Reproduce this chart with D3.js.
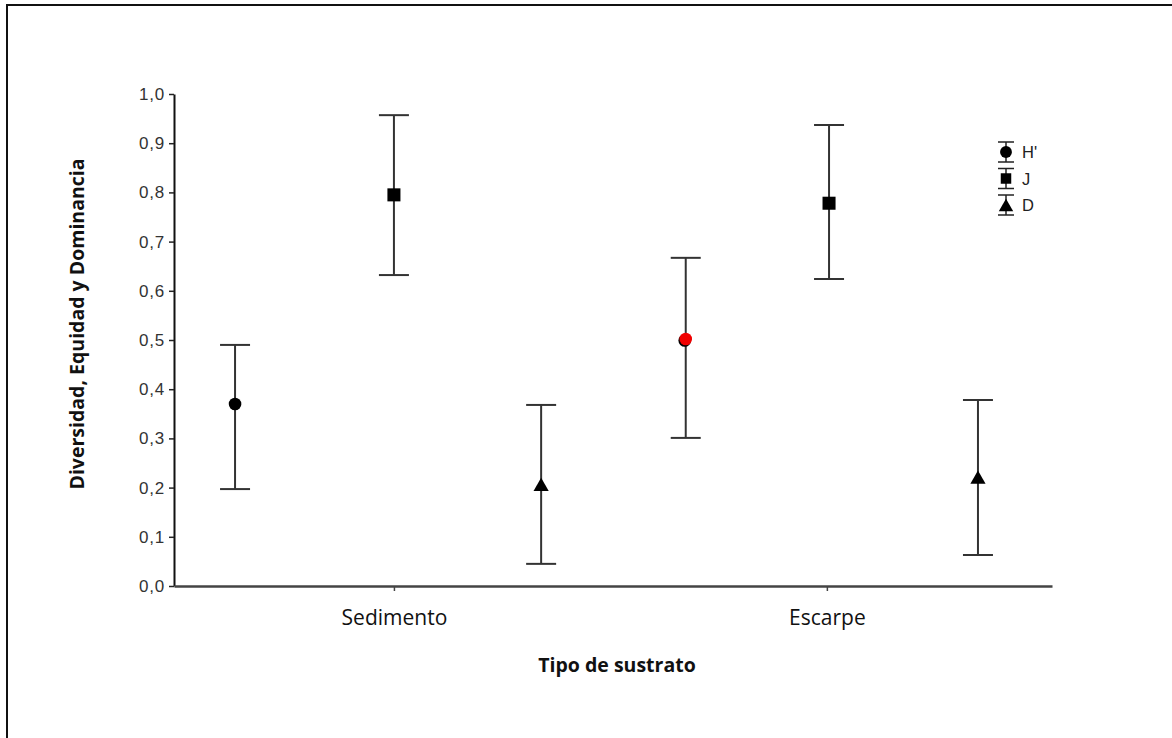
<!DOCTYPE html>
<html>
<head>
<meta charset="utf-8">
<script src="https://cdn.jsdelivr.net/npm/d3@7"></script>
<style>
  html, body { margin: 0; padding: 0; background: #fff; }
  svg { display: block; }
</style>
</head>
<body>
<svg id="chart" width="1172" height="738"></svg>
<script>
// Substrate types on the x axis
const categories = ["Sedimento", "Escarpe"];
// Index series: H' (diversity), J (evenness), D (dominance)
const seriesNames = ["H'", "J", "D"];
const seriesShapes = ["circle", "square", "triangle"];
// Means and interval bounds per substrate, in the order of categories
const hMean = [0.37, 0.502];
const hLow  = [0.197, 0.301];
const hHigh = [0.49, 0.667];
const jMean = [0.795, 0.778];
const jLow  = [0.632, 0.624];
const jHigh = [0.957, 0.937];
const dMean = [0.205, 0.22];
const dLow  = [0.045, 0.063];
const dHigh = [0.368, 0.378];
// Y axis tick values
const yTicks = [0, 0.1, 0.2, 0.3, 0.4, 0.5, 0.6, 0.7, 0.8, 0.9, 1.0];

// Horizontal dodge of each series around its category centre (x-axis units)
const series = [
  { name: seriesNames[0], shape: seriesShapes[0], mean: hMean, low: hLow, high: hHigh, dodge: [-0.367, -0.326] },
  { name: seriesNames[1], shape: seriesShapes[1], mean: jMean, low: jLow, high: jHigh, dodge: [0.0, 0.005] },
  { name: seriesNames[2], shape: seriesShapes[2], mean: dMean, low: dLow, high: dHigh, dodge: [0.34, 0.349] }
];

const svg = d3.select("#chart");

// Outer frame
svg.append("rect")
  .attr("x", 7).attr("y", 5)
  .attr("width", 1200).attr("height", 800)
  .attr("fill", "none").attr("stroke", "#111").attr("stroke-width", 2);

const plotLeft = 174, plotRight = 1052, plotTop = 94, plotBottom = 586;

const x = d3.scaleLinear().domain([-0.008, 2.02]).range([plotLeft, plotRight]);
const y = d3.scaleLinear().domain([0, 1]).range([plotBottom, plotTop]);

const commaFmt = d => d3.format(".1f")(d).replace(".", ",");

// Y axis
const yAxis = svg.append("g")
  .attr("transform", `translate(${plotLeft},0)`)
  .call(d3.axisLeft(y).tickValues(yTicks).tickFormat(commaFmt).tickSize(5).tickSizeOuter(0));
yAxis.select(".domain").attr("stroke", "#111").attr("stroke-width", 2);
yAxis.selectAll(".tick line").attr("stroke", "#222").attr("stroke-width", 1.5);
yAxis.selectAll(".tick text")
  .attr("x", -9)
  .attr("font-family", "Liberation Sans, Arial, sans-serif")
  .attr("font-size", 17)
  .attr("letter-spacing", 0.8)
  .attr("fill", "#333");

// X axis
const xAxis = svg.append("g")
  .attr("transform", `translate(0,${plotBottom})`)
  .call(d3.axisBottom(x).tickValues([0.5, 1.5]).tickFormat((d, i) => categories[i]).tickSize(5).tickSizeOuter(0));
xAxis.select(".domain").attr("stroke", "#444").attr("stroke-width", 2.5);
xAxis.selectAll(".tick line").attr("stroke", "#444").attr("stroke-width", 1.5);
xAxis.selectAll(".tick text")
  .attr("y", 24)
  .attr("font-family", "Open Sans, sans-serif")
  .attr("font-size", 21)
  .attr("fill", "#111");

// Axis titles
svg.append("text")
  .attr("transform", "translate(84,324) rotate(-90)")
  .attr("text-anchor", "middle")
  .attr("font-family", "Open Sans, sans-serif")
  .attr("font-weight", "bold")
  .attr("font-size", 19.5)
  .attr("fill", "#111")
  .text("Diversidad, Equidad y Dominancia");

svg.append("text")
  .attr("x", 617).attr("y", 672)
  .attr("text-anchor", "middle")
  .attr("font-family", "Open Sans, sans-serif")
  .attr("font-weight", "bold")
  .attr("font-size", 19.5)
  .attr("fill", "#111")
  .text("Tipo de sustrato");

const symbolFor = (shape, size) => {
  const type = shape === "circle" ? d3.symbolCircle : shape === "square" ? d3.symbolSquare : d3.symbolTriangle;
  return d3.symbol().type(type).size(size)();
};
const sizes = { circle: 125, square: 170, triangle: 100 };

// Error bars and markers
const plot = svg.append("g");
series.forEach(s => {
  categories.forEach((c, i) => {
    const cx = x(i + 0.5 + s.dodge[i]);
    const g = plot.append("g");
    g.append("line")
      .attr("x1", cx).attr("x2", cx)
      .attr("y1", y(s.low[i])).attr("y2", y(s.high[i]))
      .attr("stroke", "#333").attr("stroke-width", 2);
    [s.low[i], s.high[i]].forEach(v => {
      g.append("line")
        .attr("x1", cx - 15).attr("x2", cx + 15)
        .attr("y1", y(v)).attr("y2", y(v))
        .attr("stroke", "#333").attr("stroke-width", 2);
    });
    const highlight = s.name === "H'" && c === "Escarpe";
    if (highlight) {
      g.append("path")
        .attr("d", symbolFor(s.shape, sizes[s.shape]))
        .attr("transform", `translate(${cx - 1},${y(s.mean[i]) + 1.5})`)
        .attr("fill", "#000");
    }
    g.append("path")
      .attr("d", symbolFor(s.shape, sizes[s.shape]))
      .attr("transform", `translate(${cx},${y(s.mean[i]) + (s.shape === "triangle" ? 1.5 : 0)})`)
      .attr("fill", highlight ? "#f00000" : "#000");
  });
});

// Legend
const legend = svg.append("g").attr("transform", "translate(1006,152)");
series.forEach((s, k) => {
  const ly = k * 26.5;
  const g = legend.append("g").attr("transform", `translate(0,${ly})`);
  g.append("line").attr("x1", 0).attr("x2", 0).attr("y1", -10).attr("y2", 10)
    .attr("stroke", "#222").attr("stroke-width", 1.5);
  [-10, 10].forEach(v => g.append("line").attr("x1", -8).attr("x2", 8).attr("y1", v).attr("y2", v)
    .attr("stroke", "#222").attr("stroke-width", 1.5));
  g.append("path").attr("d", symbolFor(s.shape, s.shape === "triangle" ? 90 : 110))
    .attr("transform", `translate(0,${s.shape === "triangle" ? 2 : 0})`)
    .attr("fill", "#000");
  g.append("text").attr("x", 16).attr("y", 6)
    .attr("font-family", "Liberation Sans, Arial, sans-serif")
    .attr("font-size", 16.5)
    .attr("fill", "#222")
    .text(s.name);
});
</script>
</body>
</html>
